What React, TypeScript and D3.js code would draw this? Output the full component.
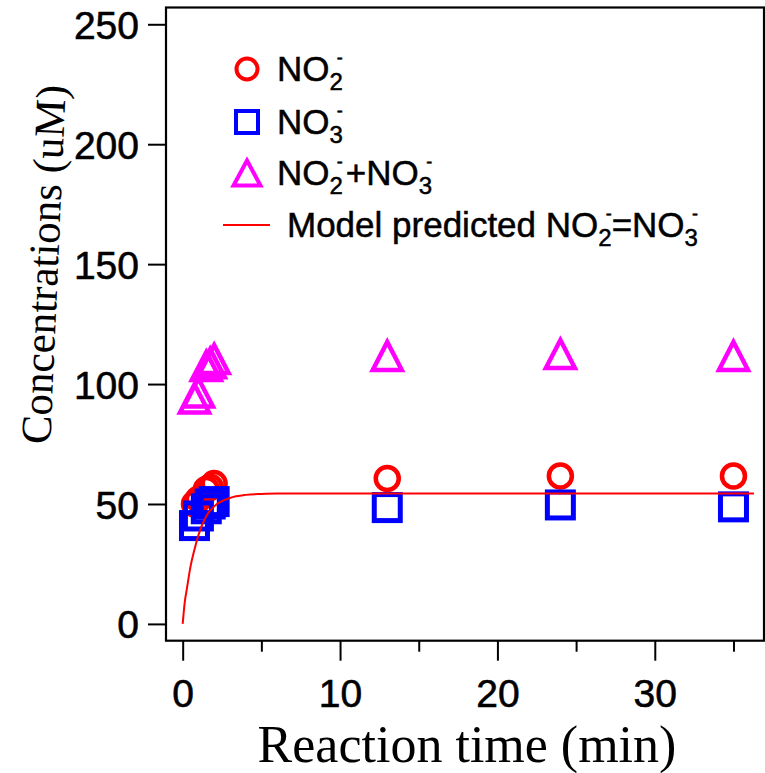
import React, { useEffect, useRef } from "react";
import * as d3 from "d3";

const width = 765;
const height = 773;
const plot = { left: 166, right: 764, top: 7.5, bottom: 640.7 };

// reaction time (min) of the measured samples
const times = [0.75, 1.0, 1.5, 1.75, 2.0, 13, 24, 35];
const nitrite = [50, 52, 56, 57, 58.5, 60.6, 61.7, 61.7];
const nitrate = [41, 45, 48, 50, 51, 48.5, 49.6, 48.8];
const total = [94, 96.5, 107.5, 108.7, 110.4, 111.7, 112.5, 111.7];

// model curve
const modelTimes = [0, 0.15, 0.25, 0.5, 0.75, 1, 1.5, 2, 3, 4, 5, 6, 8, 36.3];
const modelConc = [0, 10, 14, 24, 31, 37, 45, 49, 52.5, 53.8, 54.2, 54.4, 54.4, 54.4];

const xTicks = [0, 10, 20, 30];
const xMinorTicks = [5, 15, 25, 35];
const yTicks = [0, 50, 100, 150, 200, 250];

const sans = "'Liberation Sans', Arial, sans-serif";
const serif = "'Liberation Serif', 'Times New Roman', serif";

const RED = "#ff0000";
const BLUE = "#0000ff";
const MAGENTA = "#ff00ff";

const xScale = d3.scaleLinear().domain([-1.06, 36.94]).range([plot.left, plot.right]);
const yScale = d3.scaleLinear().domain([-7, 257]).range([plot.bottom, plot.top]);

const triPath = (cx: number, cy: number, w: number, h: number) =>
  `M${cx},${cy - h / 2}L${cx + w / 2},${cy + h / 2}L${cx - w / 2},${cy + h / 2}Z`;

export default function App() {
  const xAxisRef = useRef<SVGGElement>(null);
  const xMinorRef = useRef<SVGGElement>(null);
  const yAxisRef = useRef<SVGGElement>(null);

  useEffect(() => {
    const xAxis = d3.axisBottom(xScale).tickValues(xTicks).tickSize(20).tickPadding(19).tickFormat(d3.format("d"));
    const xMinor = d3.axisBottom(xScale).tickValues(xMinorTicks).tickSize(11).tickFormat(() => "");
    const yAxis = d3.axisLeft(yScale).tickValues(yTicks).tickSize(18).tickPadding(9).tickFormat(d3.format("d"));

    const style = (g: d3.Selection<SVGGElement, unknown, null, undefined>) => {
      g.select(".domain").remove();
      g.selectAll(".tick line").attr("stroke", "#000").attr("stroke-width", 2);
      g.selectAll(".tick text")
        .attr("fill", "#000")
        .attr("stroke", "#000")
        .attr("stroke-width", 0.6)
        .style("font-family", sans)
        .style("font-size", "39px");
    };

    d3.select(xAxisRef.current!).call(xAxis).call(style);
    d3.select(xMinorRef.current!).call(xMinor).call(style);
    d3.select(yAxisRef.current!).call(yAxis).call(style);
    d3.select(yAxisRef.current!).selectAll(".tick text").attr("dy", "0.36em");
  }, []);

  const line = d3
    .line<number>()
    .x((d) => xScale(d))
    .y((_, i) => yScale(modelConc[i]))
    .curve(d3.curveMonotoneX);

  const lx = 247;
  const rows = [69, 122, 173, 225];

  return (
    <svg
      width={width}
      height={height}
      style={{ position: "absolute", left: 0, top: 0, display: "block", background: "#fff" }}
    >
      <g ref={xAxisRef} transform={`translate(0,${plot.bottom})`} />
      <g ref={xMinorRef} transform={`translate(0,${plot.bottom})`} />
      <g ref={yAxisRef} transform={`translate(${plot.left},0)`} />

      {/* markers */}
      <g fill="none" strokeLinejoin="miter">
        {times.map((t, i) => (
          <path key={"t" + i} d={triPath(xScale(t), yScale(total[i]), 29, 28)} stroke={MAGENTA} strokeWidth={4.5} />
        ))}
        {times.map((t, i) => (
          <circle key={"c" + i} cx={xScale(t)} cy={yScale(nitrite[i])} r={11.5} stroke={RED} strokeWidth={4.5} />
        ))}
        {times.map((t, i) => (
          <rect
            key={"s" + i}
            x={xScale(t) - 13}
            y={yScale(nitrate[i]) - 13}
            width={26}
            height={26}
            stroke={BLUE}
            strokeWidth={5}
          />
        ))}
      </g>
      <path d={line(modelTimes) || ""} fill="none" stroke={RED} strokeWidth={2} />

      {/* frame */}
      <rect
        x={plot.left}
        y={plot.top}
        width={plot.right - plot.left}
        height={plot.bottom - plot.top}
        fill="none"
        stroke="#000"
        strokeWidth={2.2}
      />

      {/* legend */}
      <g fill="none">
        <circle cx={lx} cy={rows[0]} r={10.5} stroke={RED} strokeWidth={4} />
        <rect x={lx - 11} y={rows[1] - 11} width={22} height={22} stroke={BLUE} strokeWidth={4} />
        <path d={triPath(lx, rows[2], 27, 25)} stroke={MAGENTA} strokeWidth={4} />
        <line x1={223} x2={270} y1={rows[3]} y2={rows[3]} stroke={RED} strokeWidth={2} />
      </g>
      <g fontFamily={sans} fontSize={35} fill="#000" stroke="#000" strokeWidth={0.5}>
        <text x={277} y={81}>
          NO<tspan fontSize={24} dy={9}>2</tspan>
          <tspan fontSize={18} dx={-6} dy={-26}>-</tspan>
        </text>
        <text x={277} y={134}>
          NO<tspan fontSize={24} dy={9}>3</tspan>
          <tspan fontSize={18} dx={-6} dy={-26}>-</tspan>
        </text>
        <text x={277} y={185}>
          NO<tspan fontSize={24} dy={9}>2</tspan>
          <tspan fontSize={18} dx={-6} dy={-26}>-</tspan>
          <tspan dx={3} dy={17}>+NO</tspan>
          <tspan fontSize={24} dy={9}>3</tspan>
          <tspan fontSize={18} dx={-6} dy={-26}>-</tspan>
        </text>
        <text x={287} y={237}>
          Model predicted NO<tspan fontSize={24} dy={9}>2</tspan>
          <tspan fontSize={18} dx={-6} dy={-26}>-</tspan>
          <tspan dy={17}>=NO</tspan>
          <tspan fontSize={24} dy={9}>3</tspan>
          <tspan fontSize={18} dx={-6} dy={-26}>-</tspan>
        </text>
      </g>

      {/* axis titles */}
      <text x={467} y={762} textAnchor="middle" fontFamily={serif} fontSize={52} fill="#000">
        Reaction time (min)
      </text>
      <text
        transform="translate(58,265) rotate(-87.5)"
        textAnchor="middle"
        fontFamily={serif}
        fontSize={43}
        fill="#000"
      >
        Concentrations (uM)
      </text>
    </svg>
  );
}
